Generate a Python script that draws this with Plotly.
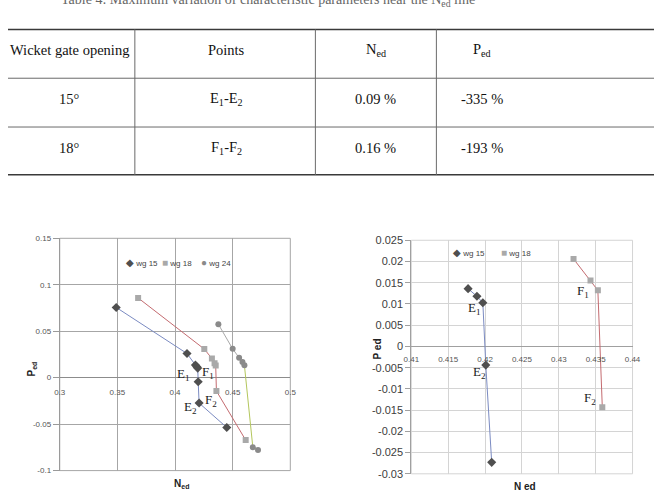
import plotly.graph_objects as go

W, H = 662, 501

# ---------------- data ----------------
caption = "Table 4: Maximum variation of characteristic parameters near the N<sub>ed</sub> line"
table_header = ["Wicket gate opening", "Points", "N<sub>ed</sub>", "P<sub>ed</sub>"]
table_rows = [
    ["15°", "E<sub>1</sub>-E<sub>2</sub>", "0.09 %", "-335 %"],
    ["18°", "F<sub>1</sub>-F<sub>2</sub>", "0.16 %", "-193 %"],
]

series_names = ["wg 15", "wg 18", "wg 24"]

wg15_N = [0.349, 0.4104, 0.4177, 0.4189, 0.4197, 0.4201, 0.4209, 0.4449]
wg15_P = [0.0756, 0.0260, 0.0136, 0.0118, 0.0103, -0.0044, -0.0273, -0.0536]

wg18_N = [0.368, 0.4254, 0.4320, 0.4343, 0.4353, 0.4359, 0.4613]
wg18_P = [0.0858, 0.0308, 0.0206, 0.0155, 0.0132, -0.0143, -0.0672]

wg24_N = [0.4376, 0.4500, 0.4556, 0.4585, 0.4602, 0.4675, 0.4720]
wg24_P = [0.0575, 0.0310, 0.0215, 0.0168, 0.0133, -0.0749, -0.0777]

# zoomed (right) chart uses the points around the transition
wg15_zoom = slice(2, 7)
wg18_zoom = slice(2, 6)

left_x_ticks = [0.3, 0.35, 0.4, 0.45, 0.5]
left_x_text = ["0.3", "0.35", "0.4", "0.45", "0.5"]
left_y_ticks = [0.15, 0.1, 0.05, 0, -0.05, -0.1]
left_y_text = ["0.15", "0.1", "0.05", "0", "-0.05", "-0.1"]

right_x_ticks = [0.41, 0.415, 0.42, 0.425, 0.43, 0.435, 0.44]
right_x_text = ["0.41", "0.415", "0.42", "0.425", "0.43", "0.435", "0.44"]
right_y_ticks = [0.025, 0.02, 0.015, 0.01, 0.005, 0, -0.005, -0.01, -0.015, -0.02, -0.025, -0.03]
right_y_text = ["0.025", "0.02", "0.015", "0.01", "0.005", "0", "-0.005", "-0.01",
                "-0.015", "-0.02", "-0.025", "-0.03"]

# ---------------- styles ----------------
C15, C18, C24 = "#4f4f4f", "#a9a9a9", "#8a8a8a"
L15, L18, L24, L24b = "#7b8bc2", "#c46b70", "#a8a8a8", "#b3c65c"
SERIF = "Liberation Serif"
SANS = "Liberation Sans"


def px(x):
    return x / W


def py(y):
    return 1 - y / H


fig = go.Figure()

# ---------- left chart ----------
fig.add_trace(go.Scatter(x=wg15_N, y=wg15_P, mode="lines+markers", name=series_names[0],
                         line=dict(color=L15, width=1),
                         marker=dict(symbol="diamond", size=7, color=C15),
                         xaxis="x", yaxis="y", showlegend=False))
fig.add_trace(go.Scatter(x=wg18_N, y=wg18_P, mode="lines+markers", name=series_names[1],
                         line=dict(color=L18, width=1),
                         marker=dict(symbol="square", size=6, color=C18),
                         xaxis="x", yaxis="y", showlegend=False))
fig.add_trace(go.Scatter(x=wg24_N[4:], y=wg24_P[4:], mode="lines", name=series_names[2],
                         line=dict(color=L24b, width=1),
                         xaxis="x", yaxis="y", showlegend=False))
fig.add_trace(go.Scatter(x=wg24_N[:5], y=wg24_P[:5], mode="lines", name=series_names[2],
                         line=dict(color=L24, width=1),
                         xaxis="x", yaxis="y", showlegend=False))
fig.add_trace(go.Scatter(x=wg24_N, y=wg24_P, mode="markers", name=series_names[2],
                         marker=dict(symbol="circle", size=6, color=C24),
                         xaxis="x", yaxis="y", showlegend=False))

# ---------- right chart ----------
fig.add_trace(go.Scatter(x=wg15_N[wg15_zoom], y=wg15_P[wg15_zoom], mode="lines+markers",
                         name=series_names[0], line=dict(color=L15, width=1),
                         marker=dict(symbol="diamond", size=7, color=C15),
                         xaxis="x2", yaxis="y2", showlegend=False))
fig.add_trace(go.Scatter(x=wg18_N[wg18_zoom], y=wg18_P[wg18_zoom], mode="lines+markers",
                         name=series_names[1], line=dict(color=L18, width=1),
                         marker=dict(symbol="square", size=6, color=C18),
                         xaxis="x2", yaxis="y2", showlegend=False))

axis_font_l = dict(family=SANS, size=8, color="#555555")
axis_font_r = dict(family=SANS, size=8, color="#555555")

fig.update_layout(
    width=W, height=H, autosize=False,
    margin=dict(l=0, r=0, t=0, b=0),
    paper_bgcolor="white", plot_bgcolor="white",
    showlegend=False,
    xaxis=dict(domain=[px(53), px(289.3)], range=[0.3, 0.5], anchor="free",
               position=py(381), tickmode="array", tickvals=left_x_ticks,
               ticktext=left_x_text, tickfont=axis_font_l, showgrid=True,
               gridcolor="#a6a6a6", gridwidth=1, zeroline=False, showline=False,
               ticks="outside", ticklen=7, tickcolor="rgba(0,0,0,0)"),
    yaxis=dict(domain=[py(476), py(238)], range=[-0.1, 0.15], anchor="x",
               tickmode="array", tickvals=left_y_ticks, ticktext=left_y_text,
               tickfont=axis_font_l, showgrid=True, gridcolor="#a6a6a6",
               zeroline=True, zerolinecolor="#8c8c8c", zerolinewidth=1,
               showline=True, linecolor="#9a9a9a", ticks="outside", ticklen=6,
               tickcolor="#9a9a9a"),
    xaxis2=dict(domain=[px(413.3), px(640)], range=[0.41, 0.44], anchor="free",
                position=py(349), tickmode="array", tickvals=right_x_ticks,
                ticktext=right_x_text, tickfont=axis_font_r, showgrid=True,
                gridcolor="#d4d4d4", zeroline=False, showline=False,
                ticks="outside", ticklen=5, tickcolor="rgba(0,0,0,0)"),
    yaxis2=dict(domain=[py(479.3), py(240)], range=[-0.03, 0.025], anchor="x2",
                tickmode="array", tickvals=right_y_ticks, ticktext=right_y_text,
                tickfont=dict(family=SANS, size=11, color="#404040"), showgrid=True,
                gridcolor="#d4d4d4", zeroline=True, zerolinecolor="#a0a0a0",
                zerolinewidth=1, showline=True, linecolor="#a0a0a0",
                ticks="outside", ticklen=5, tickcolor="#a0a0a0"),
)

shapes = []
# plot frames
shapes.append(dict(type="rect", xref="x domain", yref="y domain", x0=0, x1=1, y0=0, y1=1,
                   line=dict(color="#a6a6a6", width=1), layer="below"))
shapes.append(dict(type="rect", xref="x2 domain", yref="y2 domain", x0=0, x1=1, y0=0, y1=1,
                   line=dict(color="#d4d4d4", width=1), layer="below"))

# table lines
table_h_lines = [24, 74, 124, 173]
table_v_lines = [130, 315, 439]
for i, yy in enumerate(table_h_lines):
    shapes.append(dict(type="line", xref="paper", yref="paper", x0=0, x1=1,
                       y0=py(yy), y1=py(yy),
                       line=dict(color="#3a3a3a" if i in (0, 3) else "#6a6a6a",
                                 width=1.5 if i in (0, 3) else 1)))
for xx in table_v_lines:
    shapes.append(dict(type="line", xref="paper", yref="paper", x0=px(xx), x1=px(xx),
                       y0=py(table_h_lines[-1]), y1=py(table_h_lines[0]),
                       line=dict(color="#6a6a6a", width=1)))
fig.update_layout(shapes=shapes)

ann = []
# caption (cut off at the top, as in the source page)
ann.append(dict(text=caption, x=px(266), y=py(-6), xref="paper", yref="paper",
                showarrow=False, xanchor="center", yanchor="middle",
                font=dict(family=SERIF, size=14, color="#666666")))

col_x = [63, 224, 377, 486]
row_y = [45, 95, 145]
tfont = dict(family=SERIF, size=14.5, color="#111111")
for j, t in enumerate(table_header):
    ann.append(dict(text=t, x=px(col_x[j]), y=py(row_y[0]), xref="paper", yref="paper",
                    showarrow=False, xanchor="center", yanchor="middle", font=tfont))
for i, row in enumerate(table_rows):
    for j, t in enumerate(row):
        ann.append(dict(text=t, x=px(col_x[j]), y=py(row_y[i + 1]), xref="paper",
                        yref="paper", showarrow=False, xanchor="center",
                        yanchor="middle", font=tfont))

# legends
sym = ["◆", "■", "●"]
sym_col = [C15, C18, C24]
left_leg_x = [119, 156, 196]
for k in range(3):
    ann.append(dict(text=f'<span style="color:{sym_col[k]};font-size:10px">{sym[k]}</span> {series_names[k]}',
                    x=px(left_leg_x[k]), y=py(263), xref="paper", yref="paper",
                    showarrow=False, xanchor="left", yanchor="middle",
                    font=dict(family=SANS, size=8, color="#444444")))
right_leg_x = [454, 503]
for k in range(2):
    ann.append(dict(text=f'<span style="color:{sym_col[k]};font-size:10px">{sym[k]}</span> {series_names[k]}',
                    x=px(right_leg_x[k]), y=py(253), xref="paper", yref="paper",
                    showarrow=False, xanchor="left", yanchor="middle",
                    font=dict(family=SANS, size=8, color="#444444")))

# axis titles
title_font = dict(family=SANS, size=10, color="#222222")
for t, xx, yy, ang in [("<b>P<sub>ed</sub></b>", 25, 372, -90),
                       ("<b>N<sub>ed</sub></b>", 178, 490, 0),
                       ("<b>P ed</b>", 379, 351, -90),
                       ("<b>N ed</b>", 530, 492, 0)]:
    ann.append(dict(text=t, x=px(xx), y=py(yy), xref="paper", yref="paper",
                    showarrow=False, textangle=ang, xanchor="center",
                    yanchor="middle", font=title_font))

# point labels (E1, E2, F1, F2) anchored to the data points
lab_font = dict(family=SERIF, size=13, color="#222222")
point_labels = [
    ("x", "y", wg15_N[4], wg15_P[4], "E<sub>1</sub>", -14, -6.5),
    ("x", "y", wg15_N[6], wg15_P[6], "E<sub>2</sub>", -8.5, -4.7),
    ("x", "y", wg18_N[4], wg18_P[4], "F<sub>1</sub>", -7.4, -6.6),
    ("x", "y", wg18_N[5], wg18_P[5], "F<sub>2</sub>", -5.5, -9.7),
    ("x2", "y2", wg15_N[4], wg15_P[4], "E<sub>1</sub>", -8, -6),
    ("x2", "y2", wg15_N[5], wg15_P[5], "E<sub>2</sub>", -6.6, -7.7),
    ("x2", "y2", wg18_N[4], wg18_P[4], "F<sub>1</sub>", -15, -1),
    ("x2", "y2", wg18_N[5], wg18_P[5], "F<sub>2</sub>", -12.6, 8.3),
]
for xr, yr, xv, yv, t, dx, dy in point_labels:
    ann.append(dict(text=t, x=xv, y=yv, xref=xr, yref=yr, showarrow=False,
                    xshift=dx, yshift=dy, xanchor="center", yanchor="middle",
                    font=lab_font))

fig.update_layout(annotations=ann)

fig.write_html("out.html")
